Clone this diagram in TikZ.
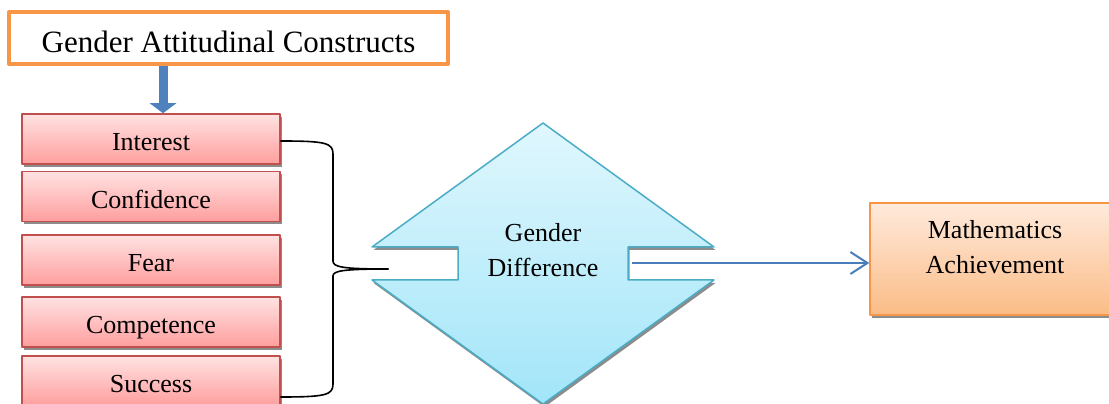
\documentclass[tikz,border=0pt]{standalone}
\usepackage{fontspec}
\setmainfont{Liberation Serif}
\usetikzlibrary{arrows.meta,shadows}
\definecolor{hdorange}{HTML}{F79646}
\definecolor{boxred}{HTML}{C0504D}
\definecolor{pinktop}{HTML}{FFE2E2}
\definecolor{pinkbot}{HTML}{FF9E9E}
\definecolor{gdcyan}{HTML}{4BACC6}
\definecolor{cyantop}{HTML}{E0F7FD}
\definecolor{cyanbot}{HTML}{A2E5F9}
\definecolor{peachtop}{HTML}{FFEADC}
\definecolor{peachbot}{HTML}{FBBC86}
\definecolor{arrowblue}{HTML}{4F81BD}
\definecolor{linkblue}{HTML}{4A7EBB}
\begin{document}
\begin{tikzpicture}[x=1pt, y=1pt, line join=round, >=stealth]
            \clip (0,0) rectangle (1109,404);
            \tikzset{
              boxshadow/.style={drop shadow={shadow xshift=1.5pt, shadow yshift=-3pt, fill=black!45, opacity=1}},
              headbox/.style={draw=hdorange, line width=4pt, fill=white, minimum width=439, minimum height=52, inner sep=0pt, text height=30pt, text depth=0pt, font=\fontsize{31}{36}\selectfont},
              attbox/.style={draw=boxred, line width=1.5pt, top color=pinktop, bottom color=pinkbot, minimum width=258, minimum height=50, text height=24pt, text depth=0pt, font=\fontsize{26}{30}\selectfont, boxshadow},
              gdshape/.style={draw=gdcyan, line width=1.5pt, top color=cyantop, bottom color=cyanbot, boxshadow},
              mathbox/.style={draw=hdorange, line width=1.5pt, top color=peachtop, bottom color=peachbot, minimum width=250, minimum height=112, boxshadow},
              txt/.style={align=center, font=\fontsize{26}{35.5}\selectfont},
              bracestyle/.style={draw=black, line width=1.6pt, line cap=round},
              bigarrow/.style={draw=arrowblue, line width=9pt, -{Triangle[width=26pt,length=10pt]}},
              linkarrow/.style={draw=linkblue, line width=2pt, -{Straight Barb[length=17pt,width=22pt,line width=2pt]}}
            }
            % heading
            \node[headbox] (head) at (228.5,366) {Gender Attitudinal Constructs};
            % attitude boxes
            \foreach \name/\txt/\yy in {int/Interest/265, conf/Confidence/207.5, fear/Fear/144, comp/Competence/82, suc/Success/23}
              \node[attbox] (\name) at (151,\yy) {\txt};
            \draw[bigarrow] ([xshift=12pt]int.north |- head.south) -- ([xshift=12pt]int.north);
            % gender difference shape
            \path[gdshape] (543,281) -- (714,157) -- (628,157) -- (628,124) -- (714,124) -- (543,0)
              -- (372,124) -- (458,124) -- (458,157) -- (372,157) -- cycle;
            \node[txt] (gd) at (543,154) {Gender\\Difference};
            \coordinate (gdin) at (388,135);
            \coordinate (gdout) at (632,141);
            % brace
            \draw[bracestyle] ([yshift=-2pt]int.east) .. controls (326,263) and (333,261) .. (333,250) -- (333,143)
              .. controls (333,137) and (342,135) .. (gdin);
            \draw[bracestyle] ([yshift=-16pt]suc.east) .. controls (326,7) and (333,9) .. (333,20) -- (333,128)
              .. controls (333,133) and (342,135) .. (gdin);
            % outcome
            \node[mathbox] (math) at (995,145) {};
            \node[txt] (mathtxt) at (995,157) {Mathematics\\Achievement};
            \draw[linkarrow] (gdout) -- (gdout -| math.west);
        \end{tikzpicture}
\end{document}
